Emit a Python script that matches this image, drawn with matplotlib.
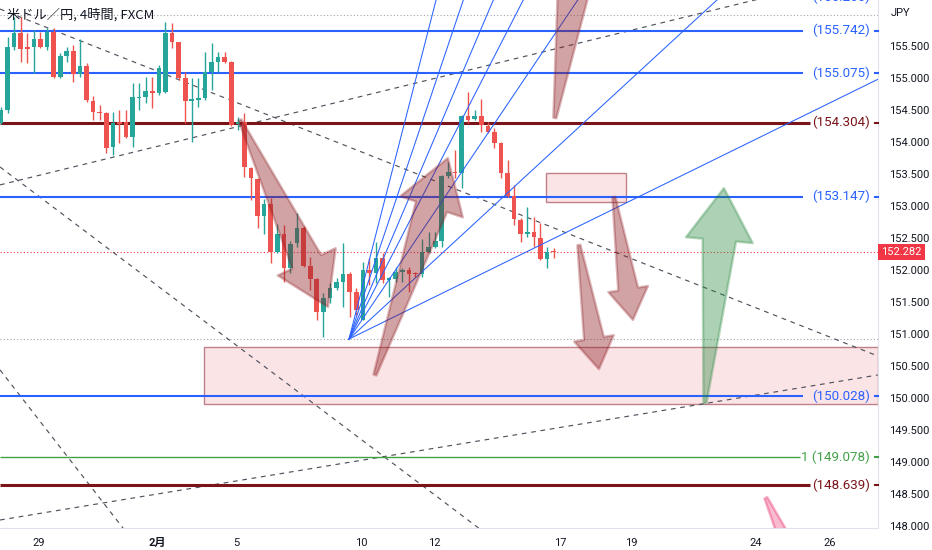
import matplotlib.pyplot as plt
import numpy as np
from matplotlib.patches import Polygon, Rectangle
from matplotlib.transforms import blended_transform_factory

plt.rcParams['font.family'] = ['Roboto', 'Noto Sans CJK JP', 'DejaVu Sans']

# 4h candles, USD/JPY, bar index 0 = first visible bar
opens = [154.30, 154.50, 155.48, 155.70, 155.48, 155.48, 155.61, 155.48, 155.72, 155.02,
         155.34, 155.42, 155.06, 155.19, 154.64, 154.47, 154.45, 153.92, 154.31, 154.31,
         154.08, 154.69, 154.70, 154.80, 154.77, 154.78, 155.70, 155.56, 155.00, 154.64,
         154.66, 154.69, 155.09, 155.25, 155.33, 155.25, 154.28, 154.31, 153.59, 153.42,
         152.84, 153.03, 152.28, 152.56, 152.03, 152.42, 152.66, 152.06, 151.86, 151.34,
         151.56, 151.72, 151.81, 151.94, 151.66, 151.22, 152.00, 151.95, 152.19, 151.84,
         151.86, 151.97, 152.00, 151.95, 151.94, 152.28, 152.36, 152.45, 153.47, 153.53,
         153.52, 154.41, 154.36, 154.41, 154.25, 154.16, 153.98, 153.52, 153.16, 152.78,
         152.56, 152.59, 152.50, 152.17, 152.29]
highs = [154.55, 155.64, 155.95, 155.95, 155.70, 155.75, 155.72, 155.78, 155.78, 155.39,
         155.48, 155.52, 155.61, 155.23, 154.72, 154.58, 154.47, 154.47, 154.50, 154.50,
         154.92, 154.92, 155.02, 155.02, 155.20, 155.88, 155.86, 155.56, 155.09, 155.00,
         155.00, 155.41, 155.55, 155.41, 155.41, 155.27, 154.39, 154.45, 153.61, 153.44,
         153.11, 153.13, 152.72, 152.70, 152.45, 152.89, 152.69, 152.20, 151.88, 151.64,
         151.80, 151.88, 152.42, 151.97, 151.72, 152.13, 152.19, 152.44, 152.27, 151.89,
         152.05, 152.03, 152.05, 151.97, 152.48, 152.59, 152.59, 153.48, 153.69, 153.88,
         154.42, 154.78, 154.50, 154.67, 154.31, 154.22, 154.00, 153.72, 153.33, 152.81,
         152.98, 152.83, 152.73, 152.36, 152.34]
lows = [154.28, 154.45, 155.44, 155.25, 155.23, 155.08, 155.47, 155.44, 155.00, 155.00,
        155.25, 154.94, 155.02, 154.63, 154.34, 154.34, 153.83, 153.80, 153.98, 154.06,
        153.92, 154.50, 154.61, 154.53, 154.73, 154.77, 155.47, 154.97, 154.30, 154.00,
        154.55, 154.66, 154.81, 155.09, 155.23, 154.25, 154.19, 153.45, 153.09, 152.66,
        152.56, 152.11, 152.27, 151.81, 151.95, 152.36, 152.05, 151.69, 151.22, 150.95,
        151.48, 151.69, 151.42, 151.27, 151.30, 151.22, 151.77, 151.80, 151.80, 151.58,
        151.81, 151.81, 151.66, 151.89, 151.89, 152.27, 152.34, 152.36, 153.44, 153.44,
        153.28, 154.30, 154.34, 154.16, 154.14, 153.91, 153.44, 153.14, 152.70, 152.44,
        152.52, 152.36, 152.16, 152.03, 152.19]
closes = [154.50, 155.48, 155.70, 155.45, 155.45, 155.61, 155.48, 155.72, 155.02, 155.34,
          155.42, 155.06, 155.19, 154.66, 154.47, 154.45, 153.91, 154.30, 154.28, 154.08,
          154.70, 154.70, 154.80, 154.77, 155.16, 155.70, 155.56, 155.00, 154.64, 154.67,
          154.69, 155.09, 155.25, 155.33, 155.25, 154.27, 154.31, 153.61, 153.44, 152.84,
          153.03, 152.28, 152.56, 152.03, 152.41, 152.66, 152.06, 151.86, 151.34, 151.56,
          151.72, 151.81, 151.94, 151.66, 151.38, 152.00, 151.95, 152.19, 151.84, 151.88,
          151.97, 152.00, 151.94, 151.94, 152.28, 152.36, 152.45, 153.47, 153.53, 153.52,
          154.41, 154.34, 154.41, 154.27, 154.16, 153.98, 153.52, 153.16, 152.80, 152.56,
          152.59, 152.52, 152.17, 152.28, 152.282]

last_price = 152.282
date_pos = [5.78, 23.71, 35.71, 54.71, 65.81, 84.95, 95.74, 114.74, 126.0]
date_labels = ['29', '2月', '5', '10', '12', '17', '19', '24', '26']

# horizontal levels
blue_levels = [156.266, 155.742, 155.075, 153.147, 150.028]
red_levels = [154.304, 148.639]
green_levels = [149.078]
gray_dotted = [155.984, 150.922]

# drawings (bar index, price)
fan_origin = (52.9, 150.922)
fan_points = [(62.61, 154.81), (65.65, 154.81), (69.0, 154.81), (72.34, 154.81),
              (78.42, 154.81), (89.51, 154.39), (133.28, 154.98)]
dashed_lines = [((-0.15, 156.078), (133.28, 150.656)),
                ((-0.15, 153.33), (133.28, 156.69)),
                ((-0.15, 148.094), (133.28, 150.36)),
                ((-0.15, 150.44), (21.1, 147.63)),
                ((-0.15, 153.61), (75.8, 147.72))]
pink_arrows = [((36.32, 154.344), (49.70, 151.422), 64),
               ((56.84, 150.36), (67.93, 153.75), 66),
               ((84.19, 154.375), (88.15, 157.156), 64),
               ((93.16, 153.14), (96.05, 151.22), 40),
               ((87.84, 152.39), (90.88, 150.45), 40)]
green_arrows = [((107.0, 149.92), (109.88, 153.28), 67)]
light_arrows = [((116.26, 148.44), (129.0, 145.6), 64)]
zones = [((30.85, 149.906), (133.3, 150.797)), ((82.83, 153.062), (94.98, 153.516))]

fig = plt.figure(figsize=(9.32, 5.5), dpi=100)
ax = fig.add_axes([0, 22 / 550, 878 / 932, 528 / 550])
ax.set_xlim(-0.15, 133.3)
ax.set_ylim(147.969, 156.219)

for s in ['top', 'left']:
    ax.spines[s].set_visible(False)
for s in ['right', 'bottom']:
    ax.spines[s].set_color('#e0e3eb')

x = np.arange(len(opens))
o = np.array(opens); c = np.array(closes)
cols = np.where(c >= o, '#26a69a', '#ef5350')
ax.vlines(x, lows, highs, colors=cols, lw=1, zorder=4)
ax.bar(x, np.maximum(np.abs(c - o), 0.018), bottom=np.minimum(o, c), width=0.7,
       color=cols, zorder=5)

# zones
for (x0, y0), (x1, y1) in zones:
    ax.add_patch(Rectangle((x0, y0), x1 - x0, y1 - y0, fc='#fbe4e6', ec='#c0808a',
                           lw=1, zorder=1))

# dotted guides
for p in gray_dotted:
    ax.axhline(p, color='#a0a3ab', lw=0.8, ls=(0, (1, 2)), zorder=2)
ax.axhline(last_price, color='#f23645', lw=0.8, ls=(0, (1, 2)), zorder=2)

# dashed trend lines
for (a, b) in dashed_lines:
    ax.plot([a[0], b[0]], [a[1], b[1]], color='#50535e', lw=0.85, ls=(0, (4, 4)), zorder=2)

# fan
for pt in fan_points:
    ex = fan_origin[0] + 12 * (pt[0] - fan_origin[0])
    ey = fan_origin[1] + 12 * (pt[1] - fan_origin[1])
    ax.plot([fan_origin[0], ex], [fan_origin[1], ey], color='#2962ff', lw=0.75, zorder=6)

# levels
def level(p, color, lw, label, xend):
    ax.plot([-0.15, xend], [p, p], color=color, lw=lw, zorder=3, solid_capstyle='butt')
    ax.text(132.07, p, label, color=color, fontsize=9.6, ha='right', va='center',
            clip_on=True, zorder=7)
    ax.plot([132.8, 133.3], [p, p], color=color, lw=1.5, zorder=3, clip_on=False)

for p in blue_levels:
    level(p, '#2962ff', 1.5, '(%.3f)' % p, 121.9)
for p in red_levels:
    level(p, '#7a1418', 2.2, '(%.3f)' % p, 122.9)
for p in green_levels:
    level(p, '#43a047', 1.0, '1 (%.3f)' % p, 121.5)

fig.canvas.draw()
to_px = ax.transData
to_data = ax.transData.inverted()

def arrow(tail, tip, w, fc, ec):
    t = to_px.transform(tail); h = to_px.transform(tip)
    d = h - t; u = d / np.hypot(*d); n = np.array([-u[1], u[0]])
    base = h - u * 0.78 * w
    pts = [t + n * 1.5, base + n * w / 4, base + n * w / 2, h,
           base - n * w / 2, base - n * w / 4, t - n * 1.5]
    ax.add_patch(Polygon(to_data.transform(pts), closed=True, fc=fc, ec=ec, lw=1.8,
                         joinstyle='round', zorder=6))

for tail, tip, w in pink_arrows:
    arrow(tail, tip, w, (0.55, 0.10, 0.12, 0.40), (0.55, 0.10, 0.12, 0.30))
for tail, tip, w in green_arrows:
    arrow(tail, tip, w, (0.11, 0.51, 0.20, 0.36), (0.11, 0.51, 0.20, 0.30))
for tail, tip, w in light_arrows:
    arrow(tail, tip, w, (0.91, 0.12, 0.39, 0.30), (0.91, 0.12, 0.39, 0.35))

# axes
ax.yaxis.tick_right()
yt = np.arange(148.0, 155.6, 0.5)
ax.set_yticks(yt, ['%.3f' % v for v in yt])
ax.tick_params(axis='y', length=0, pad=8, labelsize=8, labelcolor='#131722')
ax.set_xticks(date_pos, date_labels)
ax.tick_params(axis='x', length=0, pad=7, labelsize=8, labelcolor='#131722')
for lab in ax.get_xticklabels():
    if lab.get_text() == '2月':
        lab.set_fontweight('bold')

tr = blended_transform_factory(ax.transAxes, ax.transData)
ax.text(1.004, last_price, '152.282', transform=tr, ha='left', va='center', color='white',
        fontsize=8, bbox=dict(boxstyle='square,pad=0.3', fc='#f23645', ec='none'),
        clip_on=False, zorder=8)

fig.text(891 / 932, 1 - 13 / 550, 'JPY', fontsize=8, color='#131722', va='center')
fig.text(7 / 932, 1 - 15 / 550, '米ドル／円, 4時間, FXCM', fontsize=9.5, color='#131722',
         va='center', family=['Noto Sans CJK JP', 'DejaVu Sans'])

fig.savefig('out.png', dpi=100)
